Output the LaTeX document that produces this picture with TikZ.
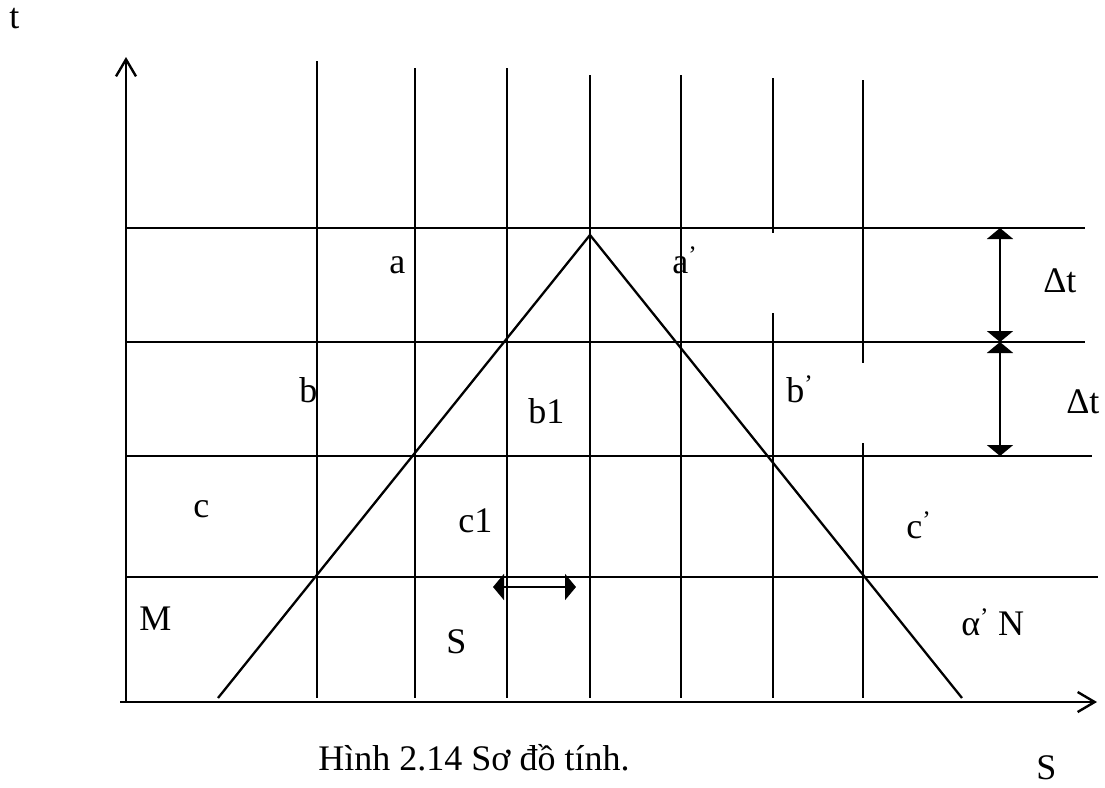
\documentclass[tikz,border=0pt]{standalone}
\usepackage{fontspec}
\setmainfont{Liberation Serif}
\usetikzlibrary{arrows.meta}

\begin{document}
\begin{tikzpicture}[x=1pt, y=-1pt, line width=2.6pt,
    lbl/.style={anchor=base west, inner sep=0pt, font=\fontsize{36}{40}\selectfont},
    dim/.style={line width=2pt, {Triangle[width=26pt,length=11pt]}-{Triangle[width=26pt,length=11pt]}},
    axis/.style={line width=2.4pt, -{Straight Barb[length=17pt,width=20pt]}}]
  \useasboundingbox (0,0) rectangle (1105,787);
  % truc toa do
  \coordinate (O) at (126,702);
  \coordinate (tend) at (126,57);
  \coordinate (sbeg) at (120,702);
  \coordinate (send) at (1097,702);
  \draw[axis] (O) -- (tend);
  \draw[axis] (sbeg) -- (send);
  % duong ngang
  \foreach \y/\r in {228/1085, 342/1085, 456/1092, 577/1098} {
    \draw (126,\y) -- (\r,\y);
  }
  % duong dung
  \foreach \x/\top in {317/61, 415/68, 507/68, 590/75, 681/75} {
    \draw (\x,\top) -- (\x,698);
  }
  \draw (773,78) -- (773,233) (773,313) -- (773,698);
  \draw (863,80) -- (863,363) (863,443) -- (863,698);
  % tam giac
  \draw[line width=2.3pt] (218,698) -- (590,235) -- (962,698);
  % khoang thoi gian
  \coordinate (d0) at (1000,228);
  \coordinate (d1) at (1000,342);
  \coordinate (d2) at (1000,456);
  \draw[dim] (d0) -- (d1);
  \draw[dim] (d1) -- (d2);
  % khoang S
  \coordinate (h0) at (493,587);
  \coordinate (h1) at (576,587);
  \draw[dim] (h0) -- (h1);
  % nhan
  \node[lbl] (lt) at (8,28) {t};
  \node[lbl] (la) at (388,273) {a};
  \node[lbl] (la2) at (671,273) {a\textsuperscript{’}};
  \node[lbl] (ldt1) at (1042,292) {Δt};
  \node[lbl] (lb) at (298,402) {b};
  \node[lbl] (lb1) at (527,423) {b1};
  \node[lbl] (lb2) at (785,402) {b\textsuperscript{’}};
  \node[lbl] (ldt2) at (1065,413) {Δt};
  \node[lbl] (lc) at (192,517) {c};
  \node[lbl] (lc1) at (457,532) {c1};
  \node[lbl] (lc2) at (905,538) {c\textsuperscript{’}};
  \node[lbl] (lM) at (138,630) {M};
  \node[lbl] (lS) at (445,653) {S};
  \node[lbl] (lN) at (960,635) {α\textsuperscript{’} N};
  \node[lbl] (lS2) at (1035,779) {S};
  \node[lbl, anchor=base] (cap) at (474,770) {Hình 2.14 Sơ đồ tính.};
\end{tikzpicture}
\end{document}
